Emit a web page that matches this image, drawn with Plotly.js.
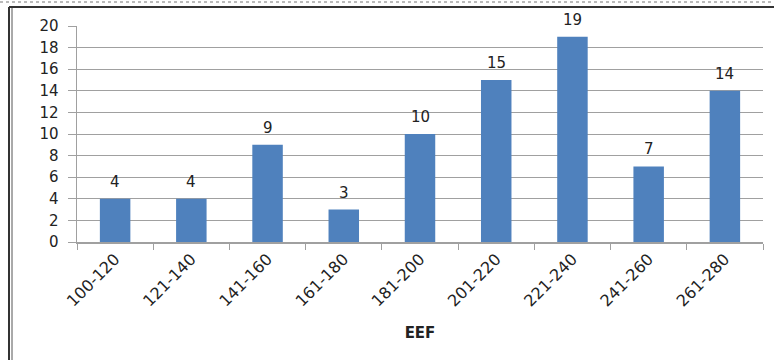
<!DOCTYPE html>
<html>
<head>
<meta charset="utf-8">
<script src="https://cdn.plot.ly/plotly-3.0.1.min.js"></script>
<style>html,body{margin:0;padding:0;background:#fff;}#chart{width:774px;height:360px;}</style>
</head>
<body>
<div id="chart"></div>
<script>
const categories = ["100-120","121-140","141-160","161-180","181-200","201-220","221-240","241-260","261-280"];
const counts = [4, 4, 9, 3, 10, 15, 19, 7, 14];
const yTicks = [0, 2, 4, 6, 8, 10, 12, 14, 16, 18, 20];

const W = 774, H = 360, L = 77, R = 11, T = 26, B = 118;
const pw = W - L - R, ph = H - T - B;
const px = v => (v - L) / pw;
const py = v => (H - B - v) / ph;

const trace = {
  type: 'bar',
  x: categories,
  y: counts,
  marker: {color: '#4f81bd', line: {width: 0}},
  hoverinfo: 'none'
};

const labels = categories.map((c, i) => ({
  x: c, y: counts[i], xref: 'x', yref: 'y',
  text: String(counts[i]), showarrow: false,
  yanchor: 'bottom', yshift: 6,
  font: {family: 'DejaVu Sans, sans-serif', size: 15, color: '#222'}
}));

const layout = {
  width: W, height: H,
  margin: {l: L, r: R, t: T, b: B, pad: 0},
  paper_bgcolor: '#fff', plot_bgcolor: '#fff',
  showlegend: false,
  bargap: 0.6,
  font: {family: 'DejaVu Sans, sans-serif', color: '#222'},
  annotations: labels,
  xaxis: {
    type: 'category',
    tickangle: -45,
    tickfont: {size: 16, color: '#222'},
    showline: true, linecolor: '#a0a0a0', linewidth: 1.5,
    ticks: 'outside', ticklen: 6, tickcolor: '#a0a0a0', tickson: 'boundaries',
    showgrid: false,
    title: {text: '<b>EEF</b>', font: {size: 15, color: '#222'}, standoff: 18}
  },
  yaxis: {
    range: [0, 20],
    tickvals: yTicks,
    ticktext: yTicks.map(String),
    tickfont: {size: 15, color: '#222'},
    showline: true, linecolor: '#a0a0a0', linewidth: 1.5,
    ticks: 'outside', ticklen: 8, tickcolor: '#a0a0a0',
    showgrid: true, gridcolor: '#a0a0a0', gridwidth: 1,
    zeroline: false,
    ticklabelstandoff: 6
  },
  shapes: [
    {type: 'line', xref: 'paper', yref: 'paper', x0: px(9), x1: px(9), y0: py(7), y1: py(400), line: {color: '#333', width: 2}},
    {type: 'line', xref: 'paper', yref: 'paper', x0: px(12), x1: px(12), y0: py(7), y1: py(400), line: {color: '#555', width: 1}},
    {type: 'line', xref: 'paper', yref: 'paper', x0: px(9), x1: px(800), y0: py(7), y1: py(7), line: {color: '#333', width: 2}},
    {type: 'line', xref: 'paper', yref: 'paper', x0: px(0), x1: px(800), y0: py(2), y1: py(2), line: {color: '#777', width: 1, dash: 'dot'}}
  ]
};

Plotly.newPlot('chart', [trace], layout, {displayModeBar: false, staticPlot: true});
</script>
</body>
</html>
